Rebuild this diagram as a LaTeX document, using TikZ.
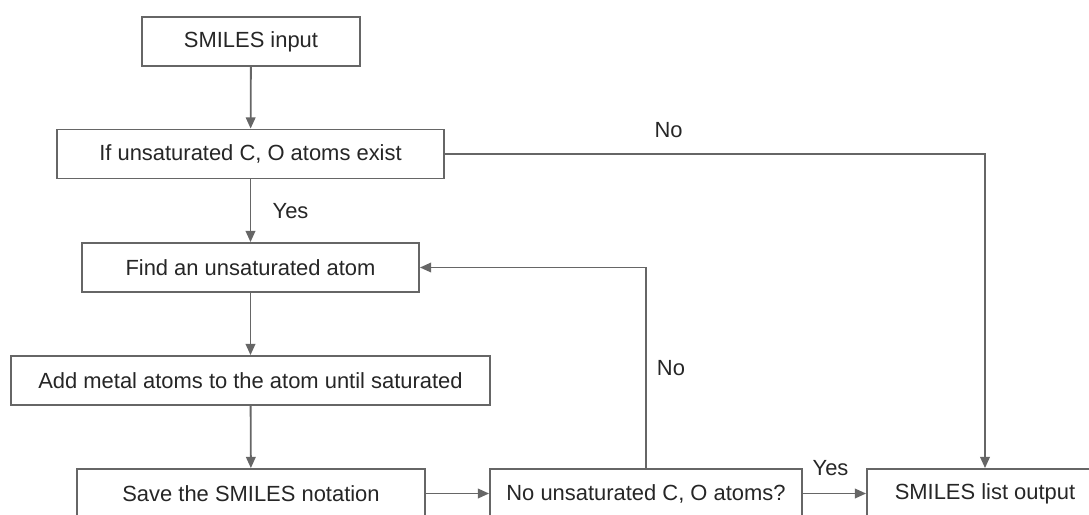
\documentclass[tikz,border=0pt]{standalone}
\usepackage{fontspec}
\setmainfont{Liberation Sans}
\usepackage{xcolor}
\usepackage{tikz}
\usetikzlibrary{arrows.meta}
\definecolor{edge}{HTML}{666666}
\definecolor{ink}{HTML}{262626}
\tikzset{
  box/.style={draw=edge, line width=1.3pt, fill=white, text=ink, minimum height=1.225cm,
    inner sep=0pt, font=\fontsize{15.6pt}{18pt}\selectfont},
  flow/.style={draw=edge, line width=1.3pt, -{Triangle[length=0.28cm, width=0.24cm]}},
  lab/.style={text=ink, font=\fontsize{15.6pt}{18pt}\selectfont, inner sep=0pt},
}

\begin{document}
\begin{tikzpicture}[x=0.025cm, y=-0.025cm]
  \useasboundingbox (0,0) rectangle (1089,514);

  \node[box, minimum width=5.45cm]   (input)  at (251,41.5)   {SMILES input};
  \node[box, minimum width=9.675cm]  (cond)   at (250.5,154)  {If unsaturated C, O atoms exist};
  \node[box, minimum width=8.425cm]  (find)   at (250.5,267.5) {Find an unsaturated atom};
  \node[box, minimum width=11.975cm] (add)    at (250.5,380.5) {Add metal atoms to the atom until saturated};
  \node[box, minimum width=8.7cm]    (save)   at (251,493.5)  {Save the SMILES notation};
  \node[box, minimum width=7.8cm]    (check)  at (646,493.5)  {No unsaturated C, O atoms?};
  \node[box, minimum width=5.9cm]    (output) at (985,493.5)  {SMILES list output};

  \draw[flow] (input) -- (cond);
  \draw[flow] (cond) -- node[lab, right=0.53cm] {Yes} (find);
  \draw[flow] (find) -- (add);
  \draw[flow] (add) -- (save);
  \draw[flow] (save) -- (check);
  \draw[flow] (check) -- node[lab, above=0.42cm, xshift=-0.1cm] {Yes} (output);

  % loop back and skip
  \draw[flow] (check.north) -- node[lab, right=0.25cm] {No} (check.north |- find.east) -- (find.east);
  \draw[flow] (cond.east) -| node[lab, pos=0.207, above=0.38cm] {No} (output.north);
\end{tikzpicture}
\end{document}
